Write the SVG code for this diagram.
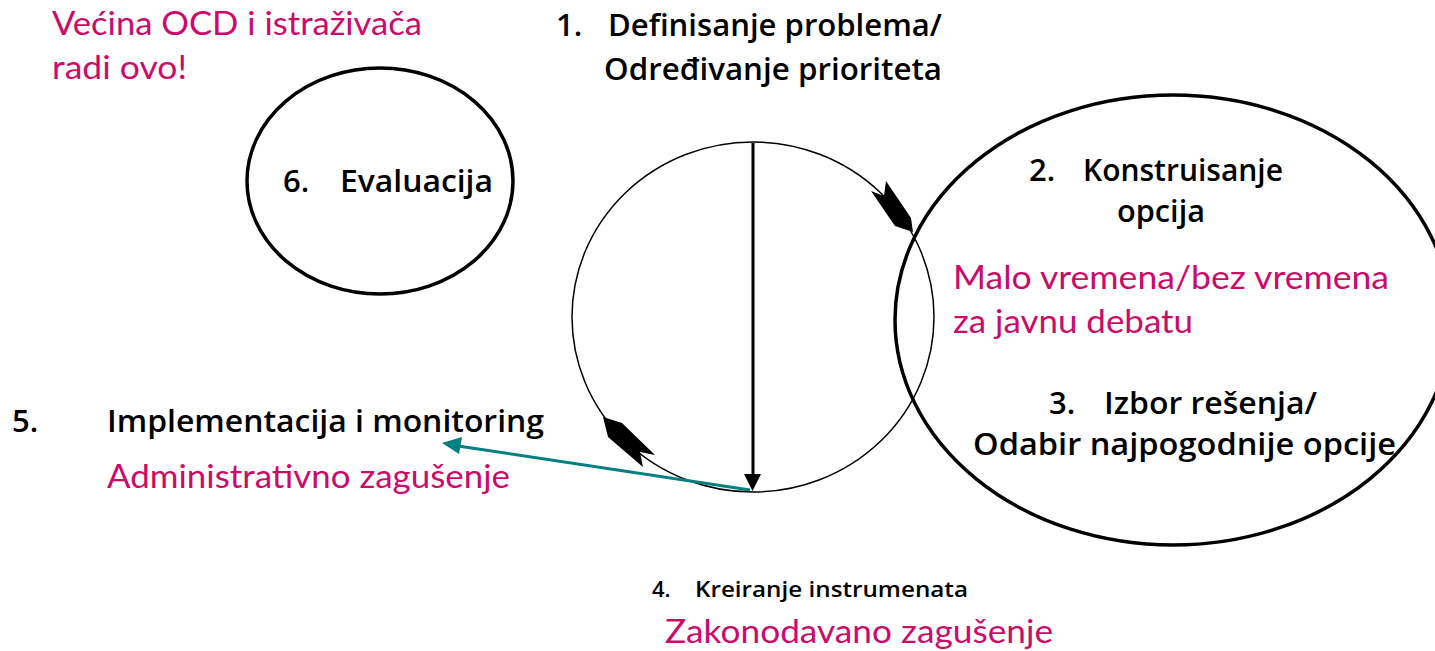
<svg xmlns="http://www.w3.org/2000/svg" width="1435" height="651" viewBox="0 0 1435 651">
<style>
.b{font-family:"Open Sans","Liberation Sans",sans-serif;font-weight:600;fill:#000;font-size:31px}
.s{font-size:22px}
.p{font-family:Lato,"Open Sans",sans-serif;font-weight:400;fill:#CC0A6A;font-size:33px}
.thick{fill:none;stroke:#000;stroke-width:3.5}
</style>
<rect width="1435" height="651" fill="#fff"/>
<g id="note-top">
<text class="p" x="52" y="35" textLength="370" lengthAdjust="spacingAndGlyphs">Većina OCD i istraživača</text>
<text class="p" x="52" y="79" textLength="135" lengthAdjust="spacingAndGlyphs">radi ovo!</text>
</g>
<g id="step1">
<text class="b" x="556" y="36">1.</text>
<text class="b" x="608" y="36" textLength="334" lengthAdjust="spacingAndGlyphs">Definisanje problema/</text>
<text class="b" x="604" y="80" textLength="338" lengthAdjust="spacingAndGlyphs">Određivanje prioriteta</text>
</g>
<g id="step6">
<ellipse class="thick" cx="380" cy="181" rx="133" ry="113"/>
<text class="b" x="283" y="192">6.</text>
<text class="b" x="340" y="192" textLength="153" lengthAdjust="spacingAndGlyphs">Evaluacija</text>
</g>
<g id="cycle">
<ellipse cx="753" cy="317" rx="181" ry="175" fill="none" stroke="#000" stroke-width="1.5"/>
</g>
<g id="step23">
<ellipse class="thick" cx="1173" cy="320" rx="278" ry="225"/>
<text class="b" x="1029" y="181">2.</text>
<text class="b" x="1083" y="181" textLength="200" lengthAdjust="spacingAndGlyphs">Konstruisanje</text>
<text class="b" x="1117" y="222" textLength="88" lengthAdjust="spacingAndGlyphs">opcija</text>
<text class="p" x="953" y="289" textLength="436" lengthAdjust="spacingAndGlyphs">Malo vremena/bez vremena</text>
<text class="p" x="953" y="333" textLength="240" lengthAdjust="spacingAndGlyphs">za javnu debatu</text>
<text class="b" x="1049" y="414">3.</text>
<text class="b" x="1104" y="414" textLength="213" lengthAdjust="spacingAndGlyphs">Izbor rešenja/</text>
<text class="b" x="973" y="455" textLength="423" lengthAdjust="spacingAndGlyphs">Odabir najpogodnije opcije</text>
</g>
<g id="step5">
<text class="b" x="12" y="432">5.</text>
<text class="b" x="107" y="432" textLength="437" lengthAdjust="spacingAndGlyphs">Implementacija i monitoring</text>
<text class="p" x="107" y="488" textLength="403" lengthAdjust="spacingAndGlyphs">Administrativno zagušenje</text>
</g>
<g id="step4">
<text class="b s" x="652" y="597">4.</text>
<text class="b s" x="695" y="597" textLength="273" lengthAdjust="spacingAndGlyphs">Kreiranje instrumenata</text>
<text class="p" x="665" y="643" textLength="388" lengthAdjust="spacingAndGlyphs">Zakonodavano zagušenje</text>
</g>
<g id="connectors">
<line x1="753" y1="143" x2="753" y2="476" stroke="#000" stroke-width="3"/>
<path d="M744,474 L761,474 L752.5,491 z" fill="#000"/>
<path d="M871,191 L884,196 L886,181 L911,218 L913,232 L895,226 z" fill="#000"/>
<path d="M603,417 L622,423 L655,455 L640,452 L643,467 L608,437 z" fill="#000"/>
<line x1="750" y1="490" x2="458" y2="446" stroke="#008080" stroke-width="3"/>
<path d="M442,443 L462,437 L459,454 z" fill="#008080"/>
</g>
</svg>
